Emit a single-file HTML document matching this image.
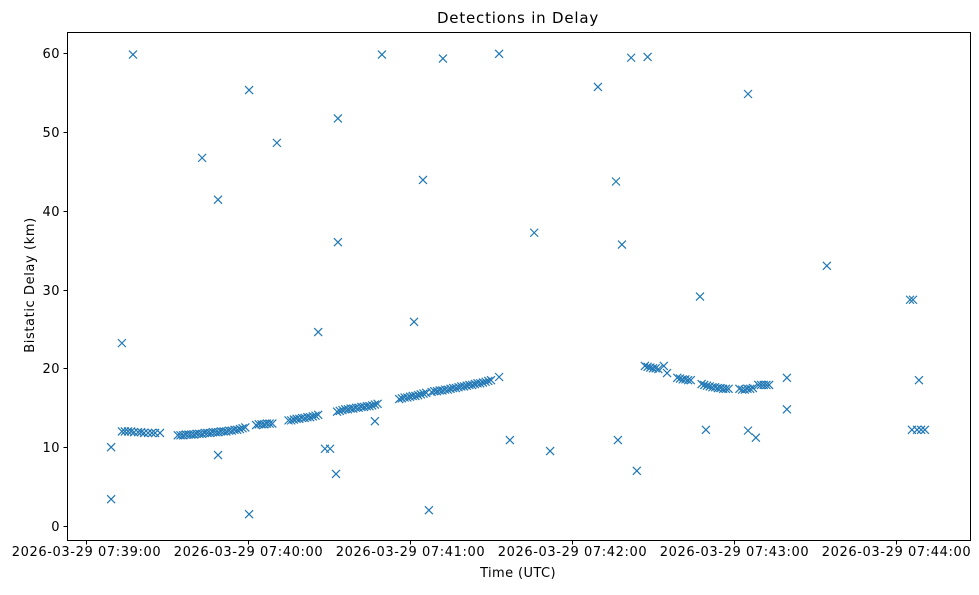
<!DOCTYPE html>
<html><head><meta charset="utf-8"><style>
body{margin:0;background:#fff;}
svg text{font-family:"DejaVu Sans","Liberation Sans",sans-serif;fill:#000;}
</style></head><body>
<svg id="chart" width="979" height="590" xmlns="http://www.w3.org/2000/svg">
<rect width="979" height="590" fill="#fff"/>
<text x="518" y="23" font-size="15" letter-spacing="0.8" text-anchor="middle">Detections in Delay</text>
<text x="518" y="577" font-size="13" letter-spacing="0.4" text-anchor="middle">Time (UTC)</text>
<text x="34" y="285" font-size="13" letter-spacing="0.6" text-anchor="middle" transform="rotate(-90 34 285)">Bistatic Delay (km)</text>
<g id="ticks"></g>
<g id="marks"></g>
<rect x="67.5" y="32.5" width="903" height="508" fill="none" stroke="#000" stroke-width="1"/>
</svg>
<script>
// seconds since 07:39:00
const times = [9.3,9.3,13.3,17.4,43,48.9,48.9,60.4,60.4,70.7,86,88.5,90.4,92.6,93.3,93.3,107,109.6,121.5,124.8,127,132.2,153,153,157,166,171.9,189.6,196.3,197,198.5,201.9,204,208,227.4,229.6,245.2,245.2,248.1,259.6,259.6,274.4,305.2,306.3,308.5,305.9,307.8,309.3,310.7,
13.3,14.4,15.6,16.7,17.8,19.3,20.4,21.5,23,24.4,25.6,27.4,
34,35,36,37,38,39,40,41,42,43,44,45,46,47,48,49,50,51,52,53,54,55,56,57,58,59,
63,64,65,66,67,68,69,
75,76,77,78,79,80,81,82,83,84,85,86,
93,94,95,96,97,98,99,100,101,102,103,104,105,106,107,108,
116,117,118,119,120,121,122,123,124,125,126,
128,129,130,131,132,133,134,135,136,137,138,139,140,141,142,143,144,145,146,147,148,149,150,
207,208,209,210,211,212,214,215.2,
219,220,221,222,223,224,
228,229,230,231,232,233,234,235,236,237,238,
242,243,244,245,246,247,
249,250,251,252,253];
const delays = [10.0,3.4,23.2,59.8,46.7,41.4,9.0,55.3,1.5,48.6,24.6,9.8,9.8,6.6,36.0,51.7,13.3,59.8,25.9,43.9,2.0,59.3,59.9,18.9,10.9,37.2,9.5,55.7,43.7,10.9,35.7,59.4,7.0,59.5,29.1,12.2,54.8,12.1,11.2,18.8,14.8,33.0,28.7,28.7,18.5,12.2,12.2,12.2,12.2,
12.0,12.0,12.0,12.0,11.9,11.9,11.9,11.8,11.8,11.8,11.8,11.8,
11.5,11.5,11.5,11.6,11.6,11.6,11.6,11.7,11.7,11.7,11.8,11.8,11.8,11.9,11.9,11.9,12.0,12.0,12.0,12.1,12.1,12.2,12.2,12.3,12.4,12.5,
12.8,12.9,12.9,12.9,13.0,13.0,13.0,
13.4,13.4,13.5,13.6,13.6,13.7,13.7,13.8,13.8,13.9,14.0,14.1,
14.5,14.6,14.7,14.8,14.8,14.9,14.9,15.0,15.0,15.1,15.1,15.2,15.2,15.3,15.4,15.5,
16.1,16.2,16.3,16.3,16.4,16.5,16.5,16.6,16.7,16.8,16.9,
17.0,17.1,17.1,17.2,17.2,17.3,17.3,17.4,17.5,17.5,17.6,17.7,17.7,17.8,17.9,17.9,18.0,18.1,18.1,18.2,18.3,18.4,18.5,
20.3,20.2,20.1,20.0,20.0,19.9,20.3,19.4,
18.8,18.7,18.6,18.6,18.5,18.5,
18.0,17.9,17.8,17.7,17.6,17.6,17.5,17.5,17.4,17.4,17.4,
17.4,17.3,17.3,17.4,17.4,17.5,
17.9,17.9,17.9,17.9,17.9];
const xTickValues = [0,60,120,180,240,300];
const xTickLabels = ["2026-03-29 07:39:00","2026-03-29 07:40:00","2026-03-29 07:41:00","2026-03-29 07:42:00","2026-03-29 07:43:00","2026-03-29 07:44:00"];
const yTickValues = [0,10,20,30,40,50,60];

const NS="http://www.w3.org/2000/svg";
function xScale(t){return 86+2.7*t;}
function yScale(d){return 526-7.883*d;}
const ticks=document.getElementById('ticks');
const marks=document.getElementById('marks');
function mk(tag,attrs,parent){const e=document.createElementNS(NS,tag);for(const k in attrs)e.setAttribute(k,attrs[k]);parent.appendChild(e);return e;}
xTickValues.forEach((v,i)=>{
  const x=Math.round(xScale(v))+0.5;
  const l=mk('line',{x1:x,x2:x,y1:540.5,y2:544.5,stroke:'#000'},ticks);
  
  
  const t=mk('text',{x:x,y:556,'font-size':'13','letter-spacing':'0.6','text-anchor':'middle'},ticks);
  t.textContent=xTickLabels[i];
  
  
});
yTickValues.forEach(v=>{
  const y=Math.round(yScale(v))+0.5;
  const l=mk('line',{x1:63.5,x2:67.5,y1:y,y2:y,stroke:'#000'},ticks);
  
  
  const t=mk('text',{x:60,y:y+4.5,'font-size':'13','letter-spacing':'0.5','text-anchor':'end'},ticks);
  t.textContent=v;
  
  
});
times.forEach((t,i)=>{
  const x=xScale(t),y=yScale(delays[i]),s=4;
  const p=mk('path',{d:`M${x-s},${y-s}L${x+s},${y+s}M${x-s},${y+s}L${x+s},${y-s}`,stroke:'#1f77b4','stroke-width':'1.2',fill:'none'},marks);
  
  
});
</script>
</body></html>
